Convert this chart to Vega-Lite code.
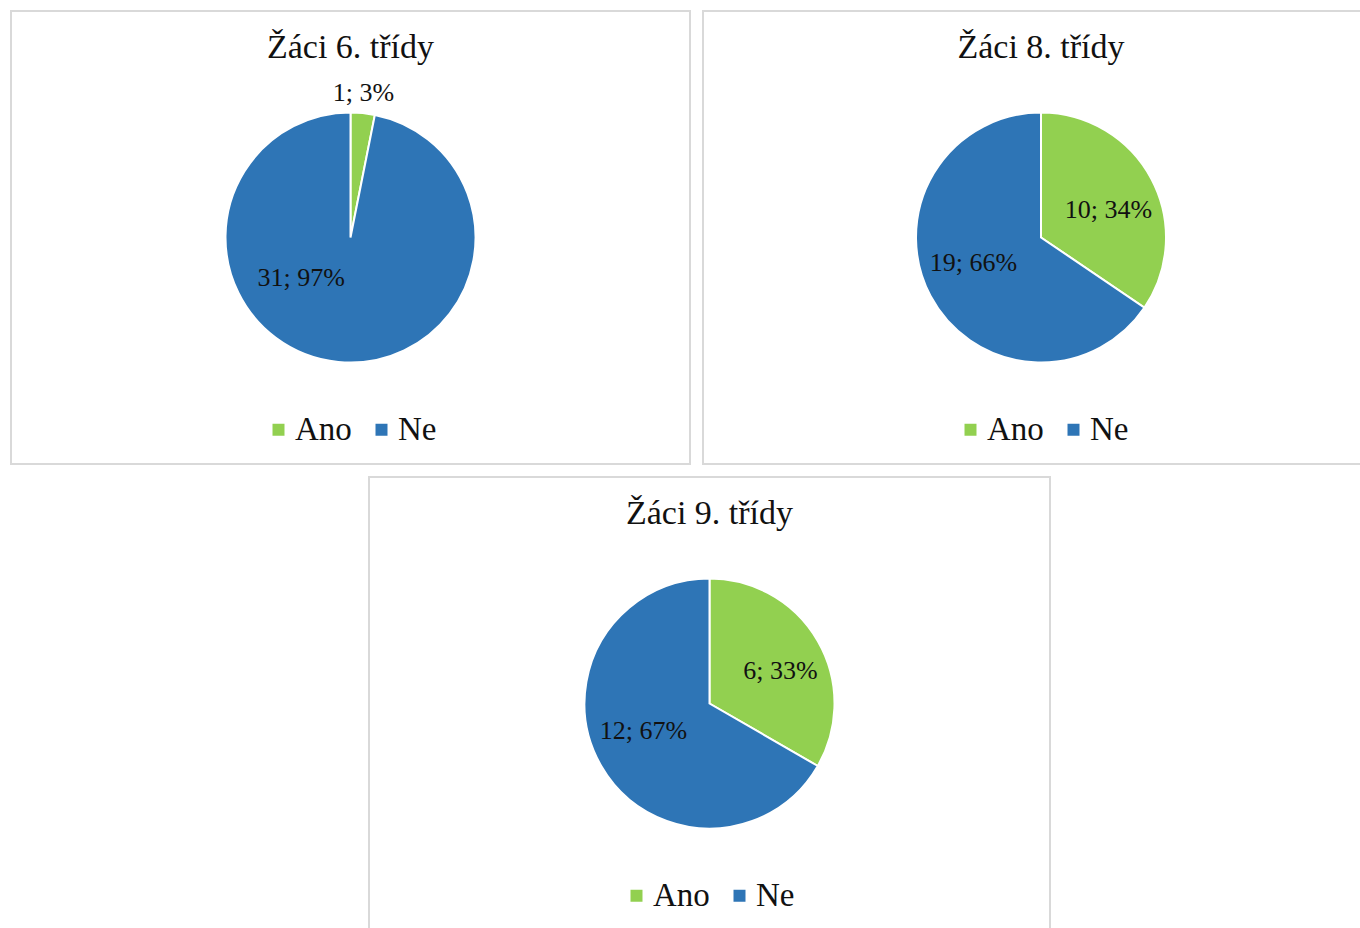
{
  "$schema": "https://vega.github.io/schema/vega-lite/v6.json",
  "padding": {"left": 10, "top": 10, "right": 0, "bottom": 0},
  "background": "#ffffff",
  "config": {
    "view": {"stroke": "#d9d9d9", "strokeWidth": 2},
    "style": {"view": {"stroke": "#d9d9d9", "strokeWidth": 2}},
    "font": "Liberation Serif",
    "title": {"font": "Liberation Serif", "fontSize": 34, "fontWeight": "normal", "color": "#111111", "anchor": "middle", "frame": "group", "offset": -54},
    "legend": {
      "orient": "none", "legendX": 251, "legendY": 402, "direction": "horizontal",
      "title": null, "symbolType": "square", "symbolSize": 144, "symbolStrokeWidth": 0,
      "labelFont": "Liberation Serif", "labelFontSize": 33, "labelColor": "#111111",
      "labelOffset": 0, "columnPadding": 13, "padding": 0, "labelLimit": 0
    }
  },
  "resolve": {"scale": {"color": "independent", "theta": "independent"}, "legend": {"color": "independent"}},
  "spacing": 11,
  "vconcat": [
    {
      "spacing": 11,
      "resolve": {"scale": {"color": "independent", "theta": "independent"}, "legend": {"color": "independent"}},
      "hconcat": [
        {
          "width": 679, "height": 453,
          "title": "Žáci 6. třídy",
          "data": {"values": [
            {"odpoved": "Ano", "pocet": 1, "popisek": "1; 3%"},
            {"odpoved": "Ne", "pocet": 31, "popisek": "31; 97%"}
          ]},
          "encoding": {
            "theta": {"field": "pocet", "type": "quantitative", "stack": true},
            "order": {"field": "odpoved", "sort": "ascending"}
          },
          "layer": [
            {
              "mark": {"type": "arc", "outerRadius": 125, "stroke": "#ffffff", "strokeWidth": 2},
              "encoding": {"color": {"field": "odpoved", "type": "nominal", "scale": {"domain": ["Ano", "Ne"], "range": ["#92D050", "#2E75B6"]}}}
            },
            {
              "mark": {"type": "text", "radius": 143, "dx": -1, "dy": -2, "fontSize": 26, "font": "Liberation Serif", "color": "#111111", "align": "center", "baseline": "middle"},
              "encoding": {"text": {"condition": {"test": "datum.odpoved == 'Ano'", "field": "popisek"}, "value": ""}}
            },
            {
              "mark": {"type": "text", "radius": 65, "dx": -43, "dy": -24, "fontSize": 26, "font": "Liberation Serif", "color": "#111111", "align": "center", "baseline": "middle"},
              "encoding": {"text": {"condition": {"test": "datum.odpoved == 'Ne'", "field": "popisek"}, "value": ""}}
            }
          ]
        },
        {
          "width": 676, "height": 453,
          "title": "Žáci 8. třídy",
          "data": {"values": [
            {"odpoved": "Ano", "pocet": 10, "popisek": "10; 34%"},
            {"odpoved": "Ne", "pocet": 19, "popisek": "19; 66%"}
          ]},
          "encoding": {
            "theta": {"field": "pocet", "type": "quantitative", "stack": true},
            "order": {"field": "odpoved", "sort": "ascending"}
          },
          "layer": [
            {
              "mark": {"type": "arc", "outerRadius": 125, "stroke": "#ffffff", "strokeWidth": 2},
              "encoding": {"color": {"field": "odpoved", "type": "nominal", "scale": {"domain": ["Ano", "Ne"], "range": ["#92D050", "#2E75B6"]}}}
            },
            {
              "mark": {"type": "text", "radius": 73, "dx": 3, "dy": 7, "fontSize": 26, "font": "Liberation Serif", "color": "#111111", "align": "center", "baseline": "middle"},
              "encoding": {"text": {"condition": {"test": "datum.odpoved == 'Ano'", "field": "popisek"}, "value": ""}}
            },
            {
              "mark": {"type": "text", "radius": 73, "dx": -3, "dy": -9, "fontSize": 26, "font": "Liberation Serif", "color": "#111111", "align": "center", "baseline": "middle"},
              "encoding": {"text": {"condition": {"test": "datum.odpoved == 'Ne'", "field": "popisek"}, "value": ""}}
            }
          ]
        }
      ]
    },
    {
      "spacing": 11,
      "resolve": {"scale": {"color": "independent", "theta": "independent"}, "legend": {"color": "independent"}},
      "hconcat": [
        {
          "width": 346, "height": 1,
          "view": {"style": "spacer", "stroke": null},
          "data": {"values": []},
          "mark": {"type": "point", "opacity": 0},
          "encoding": {}
        },
        {
          "width": 681, "height": 453,
          "title": "Žáci 9. třídy",
          "data": {"values": [
            {"odpoved": "Ano", "pocet": 6, "popisek": "6; 33%"},
            {"odpoved": "Ne", "pocet": 12, "popisek": "12; 67%"}
          ]},
          "encoding": {
            "theta": {"field": "pocet", "type": "quantitative", "stack": true},
            "order": {"field": "odpoved", "sort": "ascending"}
          },
          "layer": [
            {
              "mark": {"type": "arc", "outerRadius": 125, "stroke": "#ffffff", "strokeWidth": 2},
              "encoding": {"color": {"field": "odpoved", "type": "nominal", "scale": {"domain": ["Ano", "Ne"], "range": ["#92D050", "#2E75B6"]}}}
            },
            {
              "mark": {"type": "text", "radius": 75, "dx": 6, "dy": 5, "fontSize": 26, "font": "Liberation Serif", "color": "#111111", "align": "center", "baseline": "middle"},
              "encoding": {"text": {"condition": {"test": "datum.odpoved == 'Ano'", "field": "popisek"}, "value": ""}}
            },
            {
              "mark": {"type": "text", "radius": 75, "dx": -1, "dy": -10, "fontSize": 26, "font": "Liberation Serif", "color": "#111111", "align": "center", "baseline": "middle"},
              "encoding": {"text": {"condition": {"test": "datum.odpoved == 'Ne'", "field": "popisek"}, "value": ""}}
            }
          ]
        }
      ]
    }
  ]
}
